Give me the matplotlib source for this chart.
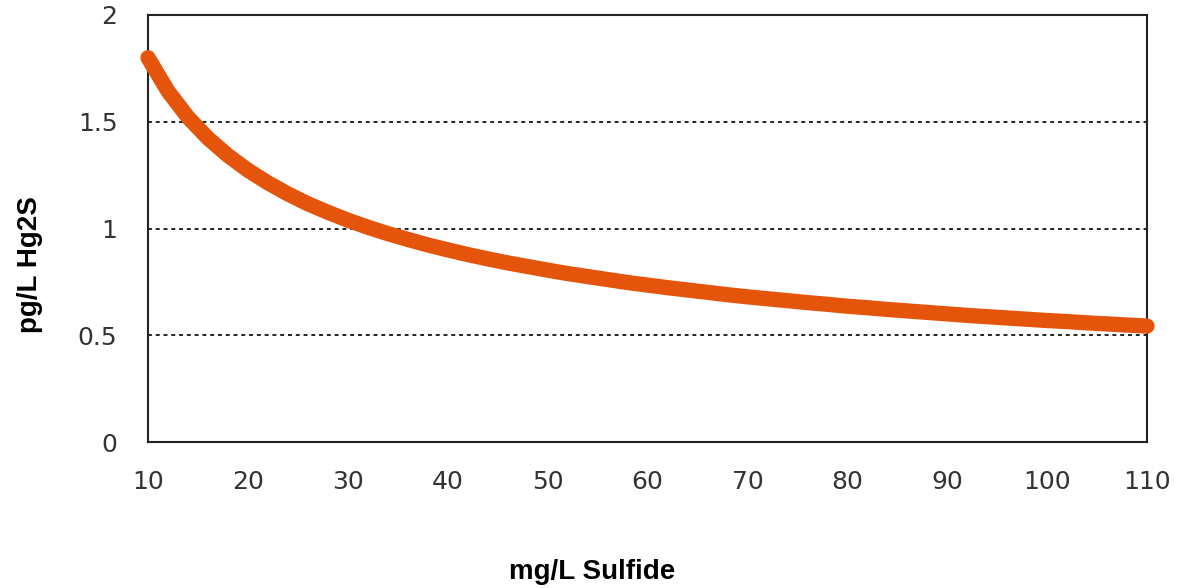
import matplotlib
matplotlib.use('Agg')
import matplotlib.pyplot as plt

# values
sulfide = [10, 12, 14, 16, 18, 20, 22, 24, 26, 28, 30, 32, 34, 36, 38, 40,
           42, 44, 46, 48, 50, 52, 54, 56, 58, 60, 62, 64, 66, 68, 70, 72,
           74, 76, 78, 80, 82, 84, 86, 88, 90, 92, 94, 96, 98, 100, 102,
           104, 106, 108, 110]
hg2s = [1.800, 1.643, 1.521, 1.423, 1.342, 1.273, 1.214, 1.162, 1.116,
        1.076, 1.039, 1.006, 0.976, 0.949, 0.923, 0.900, 0.878, 0.858,
        0.839, 0.822, 0.805, 0.789, 0.775, 0.761, 0.747, 0.735, 0.723,
        0.712, 0.701, 0.690, 0.680, 0.671, 0.662, 0.653, 0.645, 0.636,
        0.629, 0.621, 0.614, 0.607, 0.600, 0.593, 0.587, 0.581, 0.575,
        0.569, 0.564, 0.558, 0.553, 0.548, 0.543]
xticks = [10, 20, 30, 40, 50, 60, 70, 80, 90, 100, 110]
yticks = [0, 0.5, 1, 1.5, 2]
ytick_labels = ['0', '0.5', '1', '1.5', '2']
gridlevels = [0.5, 1, 1.5]

fig = plt.figure(figsize=(11.77, 5.88), dpi=100)
ax = fig.add_axes([148/1177, 1-442/588, (1147-148)/1177, (442-15)/588])

for g in gridlevels:
    ax.axhline(g, color='#222222', linestyle=(0, (2, 2)), linewidth=1.4, zorder=1)

ax.plot(sulfide, hg2s, color='#E5540B', linewidth=11, solid_capstyle='round',
        solid_joinstyle='round', clip_on=False, zorder=5)

ax.set_xlim(10, 110)
ax.set_ylim(0, 2)
ax.set_xticks(xticks)
ax.set_yticks(yticks)
ax.set_yticklabels(ytick_labels)
ax.tick_params(length=0, labelsize=18, labelcolor='#333333')
ax.tick_params(axis='x', pad=20)
ax.tick_params(axis='y', pad=22)
for s in ax.spines.values():
    s.set_color('#222222')
    s.set_linewidth(1.5)

fam = ['Liberation Sans Narrow', 'Liberation Sans', 'DejaVu Sans']
fig.text(592/1177, 1-572/588, 'mg/L Sulfide', ha='center', va='center',
         fontsize=20, fontweight='bold', family=fam)
fig.text(30/1177, 1-265/588, 'pg/L Hg2S', ha='center', va='center',
         rotation=90, fontsize=20, fontweight='bold', family=fam)

fig.savefig('out.png', dpi=100)
